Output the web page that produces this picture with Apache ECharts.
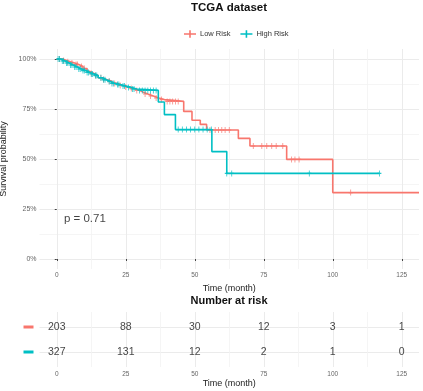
<!DOCTYPE html>
<html>
<head>
<meta charset="utf-8">
<script src="https://cdn.jsdelivr.net/npm/echarts@6/dist/echarts.min.js"></script>
<style>
  html, body { margin: 0; padding: 0; background: #fff; }
  #chart { width: 423px; height: 391px; }
</style>
</head>
<body>
<div id="chart"></div>
<script>
// axis ticks
const xTicks = [0, 25, 50, 75, 100, 125]
const xMinor = [12.5, 37.5, 62.5, 87.5, 112.5]
const yTicks = [0, 25, 50, 75, 100]
const yMinor = [12.5, 37.5, 62.5, 87.5]

// Low Risk KM curve (time in months, survival in %)
const lowTimes = [0, 2, 3.5, 5, 6.5, 8, 9.5, 11, 12, 13.5, 15, 16.5, 18, 20, 22, 24, 26, 28, 30, 31.5, 33, 35, 37, 39, 46, 49, 52, 54.3, 65.8, 70, 83.3, 100, 131.25]
const lowSurv = [100, 99.3, 98.6, 98, 97.2, 96.3, 95.2, 93.8, 92.8, 91.8, 90.6, 89.8, 88.9, 87.8, 86.8, 86, 85.2, 84.3, 83.3, 82.5, 81.5, 80.5, 79.7, 78.8, 73.8, 69.4, 67.3, 64.5, 60.3, 56.5, 49.8, 33.2, 33.2]
const lowCensor = [1, 2.5, 4, 5.5, 7, 7.5, 9, 10, 12.5, 14, 16, 17, 19, 21, 23, 25, 27, 29, 32, 34, 36, 38, 40, 41, 42, 43, 44, 55.5, 57.4, 58.6, 59.8, 61, 62.5, 71.2, 74.3, 76.1, 77.9, 79.5, 81.9, 85.1, 86.3, 87.8, 106.5]

// High Risk KM curve
const highTimes = [0, 1.5, 3, 4.5, 6, 7.5, 9, 10.5, 12, 13.5, 15, 16.5, 18, 19.5, 21, 23, 25, 27, 29, 36.8, 39, 43, 56.2, 61.6, 116.9]
const highSurv = [100, 99, 98, 97, 96, 95, 94.2, 93.3, 92.5, 91.7, 90.6, 89.6, 88.7, 87.8, 87.2, 86.5, 85.8, 85, 84.3, 78.5, 72.2, 64.7, 53.7, 42.8, 42.8]
const highCensor = [0.5, 1, 2, 2.5, 3.5, 4, 5, 5.5, 6.5, 7, 8, 8.5, 9.5, 10, 11, 11.5, 12.5, 13, 14, 14.5, 16, 17, 17.5, 19, 20, 20.5, 22, 22.5, 24, 24.5, 26, 27.5, 28, 30, 31, 32, 33, 34, 35, 36, 44, 45.5, 47, 48.5, 50, 51.5, 53, 54.5, 56, 61.6, 63.4, 91.5, 116.9]

// number at risk table
const riskTimes = [0, 25, 50, 75, 100, 125]
const lowAtRisk = [203, 88, 30, 12, 3, 1]
const highAtRisk = [327, 131, 12, 2, 1, 0]

const pValue = 'p = 0.71'

const RED = '#F8766D'
const CYAN = '#00BFC4'
const FONT = 'Liberation Sans, Arial, sans-serif'
const GRID = '#ebebeb'
const MINOR = '#f3f3f3'
const PLUS = 'path://M2,0h1v2h2v1h-2v2h-1v-2h-2v-1h2z'
const KEY = 'path://M0,3h12v1.6h-12z M5.2,0h1.6v7.6h-1.6z'

function survAt(times, surv, t) {
  let s = surv[0]
  for (let i = 0; i < times.length; i++) {
    if (times[i] <= t) s = surv[i]
  }
  return s
}

function minorX(gridIndex) {
  return {
    type: 'value', gridIndex, min: -6.25, max: 131.25,
    axisLine: { show: false }, axisLabel: { show: false },
    axisTick: { show: false, customValues: xMinor },
    splitLine: { show: true, lineStyle: { color: MINOR, width: 0.8 } }
  }
}

const chart = echarts.init(document.getElementById('chart'), null, { renderer: 'canvas' })

chart.setOption({
  animation: false,
  backgroundColor: '#fff',
  textStyle: { fontFamily: FONT },
  grid: [
    { left: 39.5, top: 49, width: 379.5, height: 220, outerBoundsMode: 'none', containLabel: false },
    { left: 39.5, top: 312, width: 379.5, height: 55, outerBoundsMode: 'none', containLabel: false }
  ],
  legend: {
    left: 179, top: 25,
    itemWidth: 12, itemHeight: 8, itemGap: 10,
    textStyle: { fontSize: 7.5, color: '#333', fontFamily: FONT, padding: [0, 0, 0, -1] },
    data: [
      { name: 'Low Risk', icon: KEY, itemStyle: { color: RED } },
      { name: 'High Risk', icon: KEY, itemStyle: { color: CYAN } }
    ]
  },
  graphic: [
    {
      type: 'text',
      style: { text: 'TCGA dataset', x: 229, y: 8, font: 'bold 11.5px ' + FONT, fill: '#111', align: 'center', verticalAlign: 'middle' }
    },
    {
      type: 'text',
      style: { text: 'Number at risk', x: 229, y: 301, font: 'bold 11px ' + FONT, fill: '#111', align: 'center', verticalAlign: 'middle' }
    }
  ],
  xAxis: [
    {
      type: 'value', gridIndex: 0, min: -6.25, max: 131.25,
      name: 'Time (month)', nameLocation: 'middle', nameGap: 10.5,
      nameTextStyle: { fontSize: 9, color: '#222' },
      axisLine: { show: false },
      axisTick: { show: true, length: 2, customValues: xTicks, lineStyle: { color: '#444' } },
      axisLabel: { customValues: xTicks, fontSize: 6.5, color: '#666', margin: 3 },
      splitLine: { show: true, lineStyle: { color: GRID, width: 1 } }
    },
    minorX(0),
    {
      type: 'value', gridIndex: 1, min: -6.25, max: 131.25,
      name: 'Time (month)', nameLocation: 'middle', nameGap: 9.5,
      nameTextStyle: { fontSize: 9, color: '#222' },
      axisLine: { show: false },
      axisTick: { show: false, customValues: xTicks },
      axisLabel: { customValues: xTicks, fontSize: 6.5, color: '#666', margin: 4 },
      splitLine: { show: true, lineStyle: { color: GRID, width: 1 } }
    },
    minorX(1)
  ],
  yAxis: [
    {
      type: 'value', gridIndex: 0, min: -5, max: 105,
      name: 'Survival probability', nameLocation: 'middle', nameGap: 29,
      nameTextStyle: { fontSize: 9, color: '#222' },
      axisLine: { show: false },
      axisTick: { show: true, length: 2, customValues: yTicks, lineStyle: { color: '#444' } },
      axisLabel: { customValues: yTicks, formatter: v => v + '%', fontSize: 7, color: '#666', margin: 3 },
      splitLine: { show: true, lineStyle: { color: GRID, width: 1 } }
    },
    {
      type: 'value', gridIndex: 0, min: -5, max: 105,
      axisLine: { show: false }, axisLabel: { show: false },
      axisTick: { show: false, customValues: yMinor },
      splitLine: { show: true, lineStyle: { color: MINOR, width: 0.8 } }
    },
    {
      type: 'value', gridIndex: 1, min: 0.4, max: 2.6,
      axisLine: { show: false },
      axisTick: { show: false, customValues: [1, 2] },
      axisLabel: {
        customValues: [1, 2], margin: 6,
        formatter: v => (v === 2 ? '{low| }' : '{high| }'),
        rich: {
          low: { width: 10, height: 3, lineHeight: 3, fontSize: 1, backgroundColor: RED },
          high: { width: 10, height: 3, lineHeight: 3, fontSize: 1, backgroundColor: CYAN }
        }
      },
      splitLine: { show: true, lineStyle: { color: GRID, width: 1 } }
    }
  ],
  series: [
    {
      name: 'Low Risk', type: 'line', step: 'end', xAxisIndex: 0, yAxisIndex: 0,
      data: lowTimes.map((t, i) => [t, lowSurv[i]]),
      showSymbol: false, color: RED, lineStyle: { width: 1.6, color: RED }, z: 3
    },
    {
      name: 'High Risk', type: 'line', step: 'end', xAxisIndex: 0, yAxisIndex: 0,
      data: highTimes.map((t, i) => [t, highSurv[i]]),
      showSymbol: false, color: CYAN, lineStyle: { width: 1.6, color: CYAN }, z: 4
    },
    {
      name: 'Low Risk', type: 'scatter', xAxisIndex: 0, yAxisIndex: 0,
      data: lowCensor.map(t => [t, survAt(lowTimes, lowSurv, t)]),
      symbol: PLUS, symbolSize: [4, 6], itemStyle: { color: RED, opacity: 0.85 }, z: 3
    },
    {
      name: 'High Risk', type: 'scatter', xAxisIndex: 0, yAxisIndex: 0,
      data: highCensor.map(t => [t, survAt(highTimes, highSurv, t)]),
      symbol: PLUS, symbolSize: [4, 6], itemStyle: { color: CYAN, opacity: 0.85 }, z: 4
    },
    {
      type: 'scatter', xAxisIndex: 0, yAxisIndex: 0,
      data: [[2.6, 20]], symbolSize: 0, silent: true,
      label: { show: true, position: 'right', distance: 0, formatter: pValue, fontSize: 11.5, color: '#111', fontFamily: FONT }
    },
    {
      type: 'scatter', xAxisIndex: 2, yAxisIndex: 2, symbolSize: 0, silent: true,
      data: riskTimes.map((t, i) => [t, 2, lowAtRisk[i]]),
      label: { show: true, position: 'inside', formatter: p => p.value[2], fontSize: 10.5, color: '#111', fontFamily: FONT }
    },
    {
      type: 'scatter', xAxisIndex: 2, yAxisIndex: 2, symbolSize: 0, silent: true,
      data: riskTimes.map((t, i) => [t, 1, highAtRisk[i]]),
      label: { show: true, position: 'inside', formatter: p => p.value[2], fontSize: 10.5, color: '#111', fontFamily: FONT }
    }
  ]
})
</script>
</body>
</html>
